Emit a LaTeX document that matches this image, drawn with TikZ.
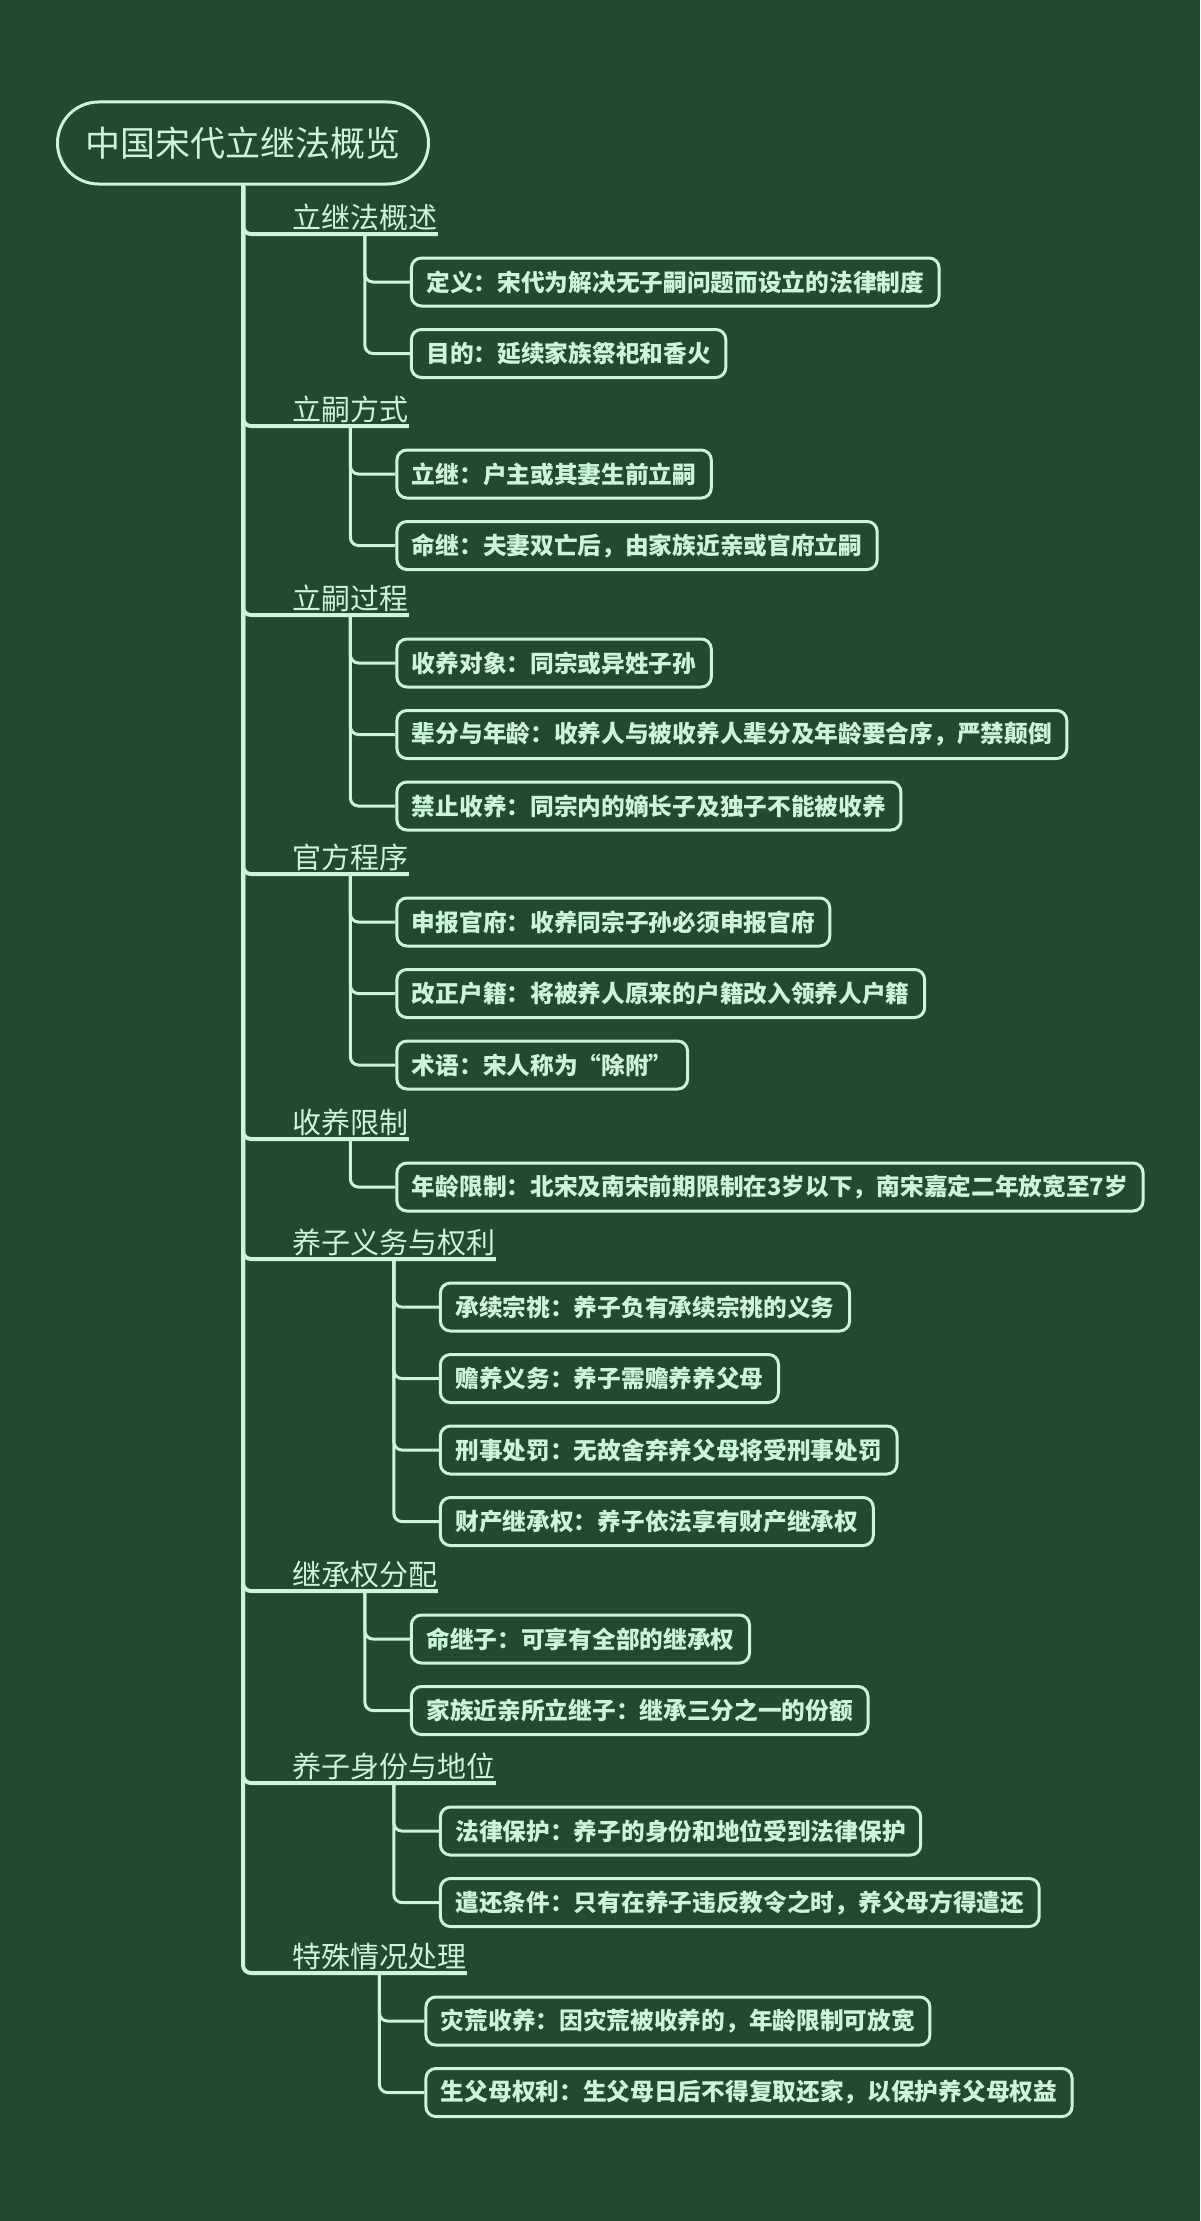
\documentclass[tikz,border=0pt]{standalone}
\usepackage{fontspec}
\setmainfont{Noto Sans CJK SC}
\usepackage{tikz}

\definecolor{board}{HTML}{234A30}
\definecolor{chalk}{HTML}{CCF5D9}

\begin{document}
\begin{tikzpicture}[x=0.5pt,y=-0.5pt,
  root node/.style={draw=chalk,line width=1.5pt,rounded corners=20.5pt,minimum width=185.5pt,minimum height=41pt,text=chalk,font=\fontsize{17.5}{20}\selectfont},
  head node/.style={anchor=south west,inner xsep=0pt,inner ysep=1.5pt,text=chalk,font=\fontsize{14.5}{17}\selectfont},
  leaf node/.style={anchor=west,draw=chalk,line width=1.5pt,rounded corners=5pt,minimum height=24pt,inner xsep=7.5pt,text=chalk,font=\fontsize{11.85}{14}\selectfont\bfseries},
  trunk/.style={draw=chalk,line width=2pt,rounded corners=4pt},
  twig/.style={draw=chalk,line width=1.5pt,rounded corners=4pt}]

  \useasboundingbox[fill=board] (0,0) rectangle (1200,2221);

  \node[root node] (0) at (243,143) {中国宋代立继法概览};

  % first level
  \node[head node] (1) at (292,234) {立继法概述};
  \node[head node] (2) at (292,426) {立嗣方式};
  \node[head node] (3) at (292,615) {立嗣过程};
  \node[head node] (4) at (292,874) {官方程序};
  \node[head node] (5) at (292,1139) {收养限制};
  \node[head node] (6) at (292,1259) {养子义务与权利};
  \node[head node] (7) at (292,1591) {继承权分配};
  \node[head node] (8) at (292,1783) {养子身份与地位};
  \node[head node] (9) at (292,1973) {特殊情况处理};

  % second level
  \node[leaf node] (1a) at ([shift={(45,48)}]1.south) {定义：宋代为解决无子嗣问题而设立的法律制度};
  \node[leaf node] (1b) at ([shift={(0,71.5)}]1a.west) {目的：延续家族祭祀和香火};

  \node[leaf node] (2a) at ([shift={(45,48)}]2.south) {立继：户主或其妻生前立嗣};
  \node[leaf node] (2b) at ([shift={(0,71.5)}]2a.west) {命继：夫妻双亡后，由家族近亲或官府立嗣};

  \node[leaf node] (3a) at ([shift={(45,48)}]3.south) {收养对象：同宗或异姓子孙};
  \node[leaf node] (3b) at ([shift={(0,71.5)}]3a.west) {辈分与年龄：收养人与被收养人辈分及年龄要合序，严禁颠倒};
  \node[leaf node] (3c) at ([shift={(0,71.5)}]3b.west) {禁止收养：同宗内的嫡长子及独子不能被收养};

  \node[leaf node] (4a) at ([shift={(45,48)}]4.south) {申报官府：收养同宗子孙必须申报官府};
  \node[leaf node] (4b) at ([shift={(0,71.5)}]4a.west) {改正户籍：将被养人原来的户籍改入领养人户籍};
  \node[leaf node] (4c) at ([shift={(0,71.5)}]4b.west) {术语：宋人称为“除附”};

  \node[leaf node] (5a) at ([shift={(45,48)}]5.south) {年龄限制：北宋及南宋前期限制在3岁以下，南宋嘉定二年放宽至7岁};

  \node[leaf node] (6a) at ([shift={(45,48)}]6.south) {承续宗祧：养子负有承续宗祧的义务};
  \node[leaf node] (6b) at ([shift={(0,71.5)}]6a.west) {赡养义务：养子需赡养养父母};
  \node[leaf node] (6c) at ([shift={(0,71.5)}]6b.west) {刑事处罚：无故舍弃养父母将受刑事处罚};
  \node[leaf node] (6d) at ([shift={(0,71.5)}]6c.west) {财产继承权：养子依法享有财产继承权};

  \node[leaf node] (7a) at ([shift={(45,48)}]7.south) {命继子：可享有全部的继承权};
  \node[leaf node] (7b) at ([shift={(0,71.5)}]7a.west) {家族近亲所立继子：继承三分之一的份额};

  \node[leaf node] (8a) at ([shift={(45,48)}]8.south) {法律保护：养子的身份和地位受到法律保护};
  \node[leaf node] (8b) at ([shift={(0,71.5)}]8a.west) {遣还条件：只有在养子违反教令之时，养父母方得遣还};

  \node[leaf node] (9a) at ([shift={(45,48)}]9.south) {灾荒收养：因灾荒被收养的，年龄限制可放宽};
  \node[leaf node] (9b) at ([shift={(0,71.5)}]9a.west) {生父母权利：生父母日后不得复取还家，以保护养父母权益};

  % trunk and underlines
  \draw[trunk] (0.south) |- (1.south west) -- (1.south east);
  \draw[trunk] (0.south) |- (2.south west) -- (2.south east);
  \draw[trunk] (0.south) |- (3.south west) -- (3.south east);
  \draw[trunk] (0.south) |- (4.south west) -- (4.south east);
  \draw[trunk] (0.south) |- (5.south west) -- (5.south east);
  \draw[trunk] (0.south) |- (6.south west) -- (6.south east);
  \draw[trunk] (0.south) |- (7.south west) -- (7.south east);
  \draw[trunk] (0.south) |- (8.south west) -- (8.south east);
  \draw[trunk] (0.south) |- (9.south west) -- (9.south east);

  % twigs
  \draw[twig] (1.south) |- (1a.west);
  \draw[twig] (1.south) |- (1b.west);
  \draw[twig] (2.south) |- (2a.west);
  \draw[twig] (2.south) |- (2b.west);
  \draw[twig] (3.south) |- (3a.west);
  \draw[twig] (3.south) |- (3b.west);
  \draw[twig] (3.south) |- (3c.west);
  \draw[twig] (4.south) |- (4a.west);
  \draw[twig] (4.south) |- (4b.west);
  \draw[twig] (4.south) |- (4c.west);
  \draw[twig] (5.south) |- (5a.west);
  \draw[twig] (6.south) |- (6a.west);
  \draw[twig] (6.south) |- (6b.west);
  \draw[twig] (6.south) |- (6c.west);
  \draw[twig] (6.south) |- (6d.west);
  \draw[twig] (7.south) |- (7a.west);
  \draw[twig] (7.south) |- (7b.west);
  \draw[twig] (8.south) |- (8a.west);
  \draw[twig] (8.south) |- (8b.west);
  \draw[twig] (9.south) |- (9a.west);
  \draw[twig] (9.south) |- (9b.west);
\end{tikzpicture}
\end{document}
